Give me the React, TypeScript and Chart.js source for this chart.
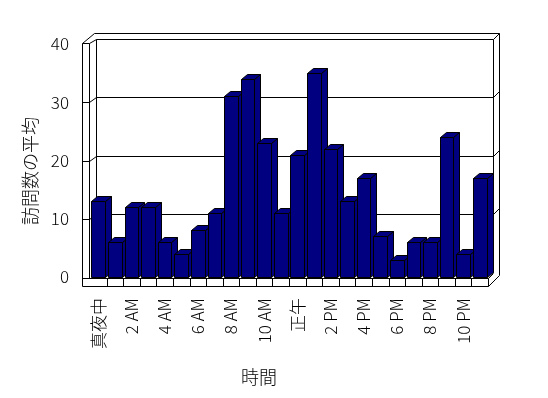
import React, { useEffect, useRef } from "react";
import { Chart, registerables } from "chart.js";

Chart.register(...registerables);

// ---- data ----
const categories = [
  "真夜中", "1 AM", "2 AM", "3 AM", "4 AM", "5 AM", "6 AM", "7 AM",
  "8 AM", "9 AM", "10 AM", "11 AM", "正午", "1 PM", "2 PM", "3 PM",
  "4 PM", "5 PM", "6 PM", "7 PM", "8 PM", "9 PM", "10 PM", "11 PM",
];
const visits = [13, 6, 12, 12, 6, 4, 8, 11, 31, 34, 23, 11, 21, 35, 22, 13, 17, 7, 3, 6, 6, 24, 4, 17];
const yTicks = [0, 10, 20, 30, 40];
const xTitle = "時間";
const yTitle = "訪問数の平均";

const FONT = "'Noto Sans CJK JP', 'Noto Sans', sans-serif";
const WEIGHT = 300;
const BAR = "#000080";
const DX = 6;
const DY = 5;

function ln(ctx: CanvasRenderingContext2D, x1: number, y1: number, x2: number, y2: number) {
  ctx.beginPath();
  ctx.moveTo(Math.round(x1) + 0.5, Math.round(y1) + 0.5);
  ctx.lineTo(Math.round(x2) + 0.5, Math.round(y2) + 0.5);
  ctx.stroke();
}

const box3d = {
  id: "box3d",
  beforeDatasetsDraw(chart: any) {
    const { ctx, chartArea } = chart;
    const L = Math.round(chartArea.left);
    const R = Math.round(chartArea.right);
    const T = Math.round(chartArea.top);
    const B = Math.round(chartArea.bottom);
    const ys = chart.scales.y;
    const xs = chart.scales.x;
    ctx.save();
    ctx.strokeStyle = "#000";
    ctx.lineWidth = 1;
    // left wall
    ln(ctx, L - 8, T - 1, L - 8, B + 9);
    ln(ctx, L - 1, T - 1, L - 1, B + 1);
    ln(ctx, L - 8, T - 1, L - 1, T - 1);
    ln(ctx, L - 8, T - 1, L + 4, T - 11);
    ln(ctx, L - 1, T - 1, L + 6, T - 5);
    // back wall
    ln(ctx, L + 4, T - 11, R + 11, T - 11);
    ln(ctx, L + 6, T - 5, R + 5, T - 5);
    ln(ctx, R + 5, T - 5, R + 11, T - 11);
    ln(ctx, R + 11, T - 11, R + 11, B - 2);
    ln(ctx, R + 5, T - 5, R + 5, B - 5);
    ln(ctx, L + 6, T - 5, L + 6, B - 5);
    ln(ctx, L + 6, B - 5, R + 5, B - 5);
    // gridlines
    for (const v of yTicks) {
      if (v === 0 || v === 40) continue;
      const yf = Math.round(ys.getPixelForValue(v));
      ln(ctx, L - 8, yf, L - 1, yf);
      ln(ctx, L - 1, yf, L + 6, yf - 5);
      ln(ctx, L + 6, yf - 5, R + 5, yf - 5);
      ln(ctx, R + 5, yf - 5, R + 11, yf - 11);
    }
    // floor
    ln(ctx, L - 8, B + 1, R, B + 1);
    ln(ctx, L - 8, B + 9, R, B + 9);
    ln(ctx, R, B + 1, R, B + 9);
    ln(ctx, R, B + 9, R + 11, B - 2);
    ln(ctx, R, B + 1, R + 5, B - 4);
    const cw = (xs.right - xs.left) / categories.length;
    for (let k = 1; k < categories.length; k++) {
      const bx = Math.round(xs.getPixelForValue(k) - cw / 2);
      ln(ctx, bx, B + 1, bx, B + 9);
    }
    ctx.restore();
  },
  afterDatasetsDraw(chart: any) {
    const { ctx } = chart;
    const meta = chart.getDatasetMeta(0);
    ctx.save();
    ctx.strokeStyle = "#000";
    ctx.lineWidth = 1;
    ctx.fillStyle = BAR;
    ctx.lineJoin = "miter";
    meta.data.forEach((el: any) => {
      const p = el.getProps(["x", "y", "base", "width"], true);
      const x0 = Math.round(p.x - p.width / 2);
      const x1 = Math.round(p.x + p.width / 2);
      const top = Math.round(p.y);
      const base = Math.round(p.base);
      const poly = (pts: number[][]) => {
        ctx.beginPath();
        pts.forEach(([a, b], i) => (i ? ctx.lineTo(a + 0.5, b + 0.5) : ctx.moveTo(a + 0.5, b + 0.5)));
        ctx.closePath();
        ctx.fill();
        ctx.stroke();
      };
      // side face
      poly([[x1, top], [x1 + DX, top - DY], [x1 + DX, base - DY], [x1, base]]);
      // top face
      poly([[x0, top], [x0 + DX, top - DY], [x1 + DX, top - DY], [x1, top]]);
      // front face
      poly([[x0, top], [x1, top], [x1, base], [x0, base]]);
    });
    ctx.restore();
  },
  afterDraw(chart: any) {
    const { ctx } = chart;
    ctx.save();
    ctx.fillStyle = "#000";
    ctx.font = `${WEIGHT} 18px ${FONT}`;
    ctx.textAlign = "center";
    ctx.textBaseline = "middle";
    ctx.fillText(xTitle, 259, 377);
    ctx.translate(30, 171);
    ctx.rotate(-Math.PI / 2);
    ctx.fillText(yTitle, 0, 0);
    ctx.restore();
  },
};

export default function App() {
  const ref = useRef<HTMLCanvasElement>(null);
  useEffect(() => {
    document.body.style.margin = "0";
    const chart = new Chart(ref.current!, {
      type: "bar",
      data: {
        labels: categories,
        datasets: [
          {
            label: yTitle,
            data: visits,
            backgroundColor: "rgba(0,0,0,0)",
            borderWidth: 0,
            barPercentage: 0.82,
            categoryPercentage: 1,
          },
        ],
      },
      options: {
        responsive: false,
        animation: false,
        devicePixelRatio: 1,
        layout: { padding: { top: 44, right: 60, bottom: 0, left: 0 } },
        plugins: { legend: { display: false }, tooltip: { enabled: false } },
        scales: {
          x: {
            grid: { display: false, drawTicks: false },
            border: { display: false },
            ticks: {
              autoSkip: false,
              maxRotation: 90,
              minRotation: 90,
              padding: 21,
              color: "#000",
              font: { family: FONT, size: 17, weight: WEIGHT as any },
              callback: (_v: any, i: number) => (i % 2 === 0 ? categories[i] : ""),
            },
            afterFit: (s: any) => {
              s.height = 121;
            },
          },
          y: {
            min: 0,
            max: 40,
            grid: { display: false, drawTicks: false },
            border: { display: false },
            ticks: {
              stepSize: 10,
              padding: 21,
              color: "#000",
              font: { family: FONT, size: 17, weight: WEIGHT as any },
            },
            afterFit: (s: any) => {
              s.width = 90;
            },
          },
        },
      },
      plugins: [box3d],
    });
    return () => chart.destroy();
  }, []);
  return (
    <div style={{ width: 548, height: 398, background: "#fff" }}>
      <canvas ref={ref} width={548} height={398} />
    </div>
  );
}
